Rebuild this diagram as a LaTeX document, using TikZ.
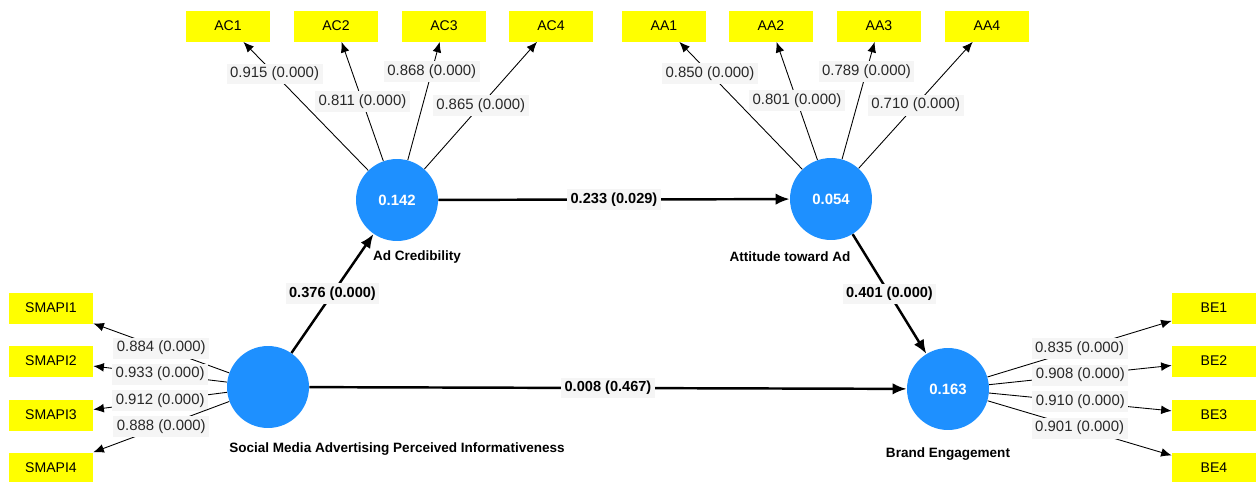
\documentclass[tikz,border=0pt]{standalone}
\usepackage{fontspec}
\setmainfont{Liberation Sans}
\usetikzlibrary{arrows.meta}
\definecolor{latentblue}{RGB}{30,144,255}
\definecolor{indyellow}{RGB}{255,255,0}
\definecolor{coefgray}{RGB}{245,245,245}
\definecolor{coeftext}{RGB}{40,40,40}
\begin{document}
\begin{tikzpicture}[x=0.02cm, y=-0.02cm,
  latent/.style={circle, fill=latentblue, minimum size=1.64cm, inner sep=0pt, text=white, font=\fontsize{8.5}{10}\selectfont\bfseries},
  indicator/.style={rectangle, fill=indyellow, minimum width=1.68cm, minimum height=0.62cm, inner sep=0pt, font=\fontsize{8}{9}\selectfont},
  latentname/.style={font=\fontsize{7.7}{9}\selectfont\bfseries},
  loading/.style={line width=0.5pt, -{Latex[length=6pt,width=5pt]}},
  structural/.style={line width=1.4pt, -{Latex[length=8pt,width=6.5pt]}},
  coef/.style={fill=coefgray, text=coeftext, inner sep=2pt, font=\fontsize{8.5}{9}\selectfont},
  boldcoef/.style={coef, text=black, font=\fontsize{8.3}{9}\selectfont\bfseries}]
\useasboundingbox (0,0) rectangle (1259,481);

%Nodes
\node[latent] (nodeSMAPI) at (268,387) {};
\node[latent] (nodeAC) at (397,200) {0.142};
\node[latent] (nodeAA) at (831,199) {0.054};
\node[latent] (nodeBE) at (948,389) {0.163};

\node[latentname] (nameSMAPI) at (397,449) {Social Media Advertising Perceived Informativeness};
\node[latentname] (nameAC) at (417,257) {Ad Credibility};
\node[latentname] (nameAA) at (790,257) {Attitude toward Ad};
\node[latentname] (nameBE) at (948,454) {Brand Engagement};

\node[indicator] (nodeAC1) at (228,26) {AC1};
\node[indicator] (nodeAC2) at (336,26) {AC2};
\node[indicator] (nodeAC3) at (444,26) {AC3};
\node[indicator] (nodeAC4) at (551,26) {AC4};

\node[indicator] (nodeAA1) at (664,26) {AA1};
\node[indicator] (nodeAA2) at (771,26) {AA2};
\node[indicator] (nodeAA3) at (879,26) {AA3};
\node[indicator] (nodeAA4) at (987,26) {AA4};

\node[indicator] (nodeSMAPI1) at (51,308) {SMAPI1};
\node[indicator] (nodeSMAPI2) at (51,361) {SMAPI2};
\node[indicator] (nodeSMAPI3) at (51,415) {SMAPI3};
\node[indicator] (nodeSMAPI4) at (51,468) {SMAPI4};

\node[indicator] (nodeBE1) at (1214,308) {BE1};
\node[indicator] (nodeBE2) at (1214,361) {BE2};
\node[indicator] (nodeBE3) at (1214,415) {BE3};
\node[indicator] (nodeBE4) at (1214,468) {BE4};

%Lines
\draw[loading] (nodeAC) edge node[coef, pos=0.75] {0.915 (0.000)} (nodeAC1);
\draw[loading] (nodeAC) edge node[coef] {0.811 (0.000)} (nodeAC2);
\draw[loading] (nodeAC) edge node[coef, pos=0.75] {0.868 (0.000)} (nodeAC3);
\draw[loading] (nodeAC) edge node[coef] {0.865 (0.000)} (nodeAC4);

\draw[loading] (nodeAA) edge node[coef, pos=0.75] {0.850 (0.000)} (nodeAA1);
\draw[loading] (nodeAA) edge node[coef] {0.801 (0.000)} (nodeAA2);
\draw[loading] (nodeAA) edge node[coef, pos=0.75] {0.789 (0.000)} (nodeAA3);
\draw[loading] (nodeAA) edge node[coef] {0.710 (0.000)} (nodeAA4);

\draw[loading] (nodeSMAPI) edge node[coef] {0.884 (0.000)} (nodeSMAPI1);
\draw[loading] (nodeSMAPI) edge node[coef] {0.933 (0.000)} (nodeSMAPI2);
\draw[loading] (nodeSMAPI) edge node[coef] {0.912 (0.000)} (nodeSMAPI3);
\draw[loading] (nodeSMAPI) edge node[coef] {0.888 (0.000)} (nodeSMAPI4);

\draw[loading] (nodeBE) edge node[coef] {0.835 (0.000)} (nodeBE1);
\draw[loading] (nodeBE) edge node[coef] {0.908 (0.000)} (nodeBE2);
\draw[loading] (nodeBE) edge node[coef] {0.910 (0.000)} (nodeBE3);
\draw[loading] (nodeBE) edge node[coef] {0.901 (0.000)} (nodeBE4);

\draw[structural] (nodeSMAPI) edge node[boldcoef] {0.376 (0.000)} (nodeAC);
\draw[structural] (nodeAC) edge node[boldcoef] {0.233 (0.029)} (nodeAA);
\draw[structural] (nodeAA) edge node[boldcoef] {0.401 (0.000)} (nodeBE);
\draw[structural] (nodeSMAPI) edge node[boldcoef] {0.008 (0.467)} (nodeBE);
\end{tikzpicture}
\end{document}
